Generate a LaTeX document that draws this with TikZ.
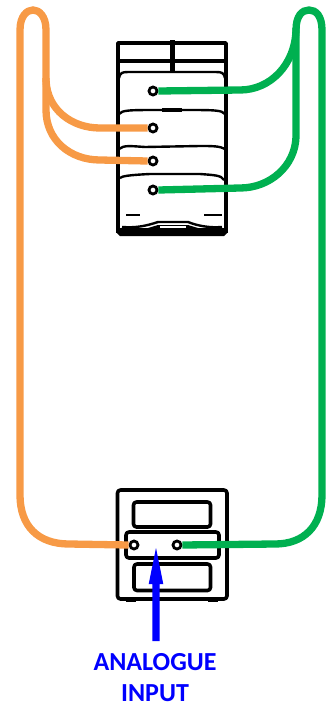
\documentclass[tikz,border=0pt]{standalone}
\usepackage{fontspec}
\setmainfont{Carlito}
\definecolor{orangewire}{HTML}{F79A46}
\definecolor{greenwire}{HTML}{00B050}
\tikzset{
  orangecable/.style={draw=orangewire,line width=7.3pt,line cap=butt},
  greencable/.style={draw=greenwire,line width=7.3pt,line cap=butt},
  port/.style={circle,draw=black,line width=2.8pt,fill=white,minimum size=8pt,inner sep=0pt},
  ink/.style={draw=black,line width=2.4pt,line join=round},
  heavyink/.style={draw=black,line width=3.6pt,line join=round},
  label/.style={font=\bfseries\fontsize{26}{28}\selectfont,text=blue,inner sep=0pt,anchor=center}
}
\begin{document}
\begin{tikzpicture}[x=1pt,y=-1pt]
\useasboundingbox (0,0) rectangle (328,707);
% top device
\draw[heavyink] (118,233) -- (118,43) -- (226,43) -- (226,233);
\draw[heavyink] (118,61) -- (226,61);
\draw[draw=black,line width=5pt] (172,40) -- (172,71);
\draw[ink] (119,78) .. controls (120,73) and (122,72) .. (128,72) -- (216,72) .. controls (222,72) and (224,73) .. (225,78);
\draw[ink] (119,114) .. controls (122,110) and (130,110) .. (160,110) -- (184,110) .. controls (214,110) and (222,110) .. (225,114);
\draw[draw=black,line width=3.8pt] (162,110) -- (182,110);
\draw[ink] (119,149) .. controls (124,145) and (130,146) .. (145,147) -- (200,146) .. controls (212,146) and (220,146) .. (225,149);
\draw[ink] (120,178) .. controls (122,176) and (130,175) .. (150,174) -- (200,174) .. controls (212,175) and (222,175) .. (224,180);
\draw[ink] (122,227) .. controls (136,228) and (146,226) .. (158,222) -- (188,222) .. controls (198,226) and (210,228) .. (222,227);
\draw[ink] (126,215) -- (140,215);
\draw[ink] (204,215) -- (222,215);
\fill[black] (117,228) -- (148,228) -- (158,225) -- (188,225) -- (198,228) -- (227,228) -- (227,233) -- (224,236) -- (120,236) -- (117,233) -- cycle;
\draw[draw=white,line width=1.4pt] (160,227) -- (186,227);
% bottom device
\draw[heavyink,rounded corners=3pt] (117.5,490) rectangle (227,599);
\draw[heavyink,rounded corners=3pt] (133.5,502) rectangle (210.5,527);
\draw[heavyink,rounded corners=3pt] (126,532) rectangle (219,558);
\draw[heavyink,rounded corners=3pt] (134,564) rectangle (210.5,590.5);
\draw[draw=black,line width=2pt] (126,600.5) -- (136,600.5) (208,600.5) -- (218,600.5);
% ports
\node[port] (t1) at (153,91) {};
\node[port] (t2) at (153,128) {};
\node[port] (t3) at (153,161) {};
\node[port] (t4) at (153,190) {};
\node[port] (b1) at (134,545) {};
\node[port] (b2) at (177,545) {};
% cables
\path[orangecable] (b1.west) -- (69,544) .. controls (38,544) and (20,526) .. (20,495) -- (20,30) .. controls (20,16) and (27,10) .. (33,10) .. controls (39,10) and (46,16) .. (46,30) -- (46,80) .. controls (47,110) and (72,128) .. (100,128) -- (t2.west);
\path[orangecable] (46,78) -- (46,110) .. controls (46,140) and (70,160) .. (100,160) -- (t3.west);
\path[greencable] (b2.east) -- (275,544) .. controls (304,544) and (322,526) .. (322,495) -- (322,30) .. controls (322,16) and (316,10) .. (309,10) .. controls (302,10) and (296,16) .. (296,30) .. controls (295,65) and (270,90) .. (240,90) -- (t1.east);
\path[greencable] (296,28) -- (296,137) .. controls (295,166) and (270,188) .. (240,188) -- (t4.east);
% input arrow
\fill[blue] (152.3,641) -- (152.3,584) -- (148.7,584) -- (156,548) -- (163.3,584) -- (159.7,584) -- (159.7,641) -- cycle;
\node[label] (l1) at (155,662) {ANALOGUE};
\node[label] (l2) at (155,693) {INPUT};
\end{tikzpicture}
\end{document}
